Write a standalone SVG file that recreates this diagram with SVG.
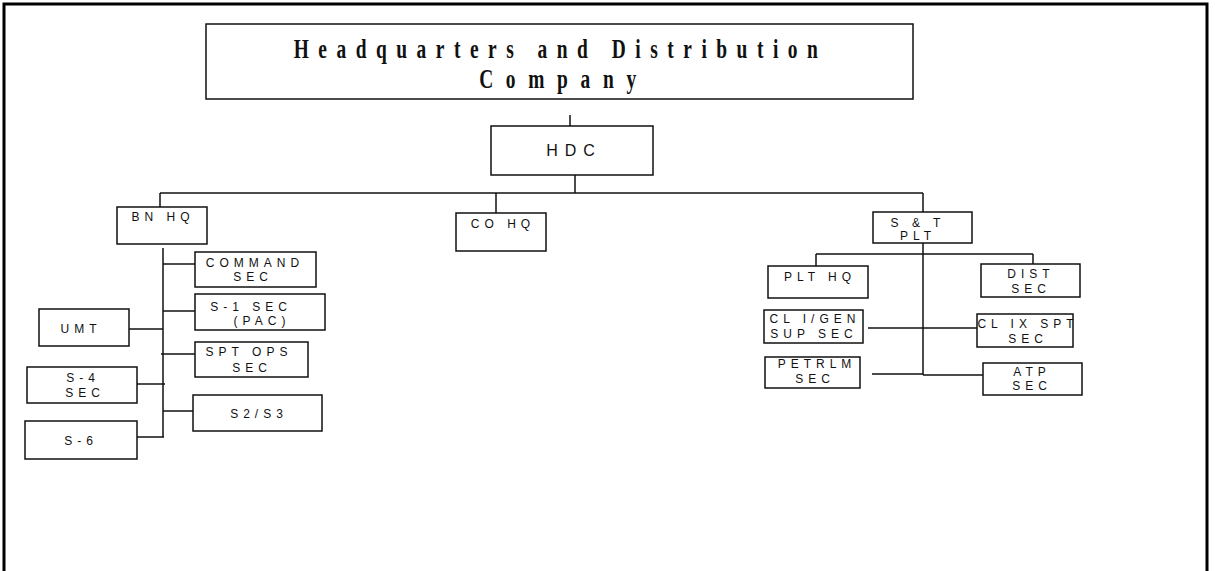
<svg xmlns="http://www.w3.org/2000/svg" width="1215" height="571" viewBox="0 0 1215 571">
  <style>
    .box { fill: #fff; stroke: #111; stroke-width: 1.5; }
    .ln { stroke: #111; stroke-width: 1.5; fill: none; }
    .t { font-family: "Liberation Sans", Arial, sans-serif; font-size: 12px; letter-spacing: 5px; fill: #111; text-anchor: middle; }
    .big { font-family: "Liberation Sans", Arial, sans-serif; font-size: 16px; letter-spacing: 7px; fill: #111; text-anchor: middle; }
    .title { font-family: "Liberation Serif", "Times New Roman", serif; font-size: 27px; font-weight: bold; fill: #111; text-anchor: middle; }
  </style>
  <rect x="0" y="0" width="1215" height="571" fill="#fff"/>
  <rect x="4" y="4" width="1203" height="590" fill="none" stroke="#000" stroke-width="3"/>

  <g id="connectors">
    <line class="ln" x1="570" y1="115" x2="570" y2="126" stroke-width="3"/>
    <line class="ln" x1="575" y1="175" x2="575" y2="193"/>
    <line class="ln" x1="160" y1="193" x2="923" y2="193"/>
    <line class="ln" x1="160" y1="193" x2="160" y2="207"/>
    <line class="ln" x1="496" y1="193" x2="496" y2="213" stroke-width="2.5"/>
    <line class="ln" x1="923" y1="193" x2="923" y2="212"/>
    <line class="ln" x1="163" y1="248" x2="163" y2="437"/>
    <line class="ln" x1="163" y1="264" x2="195" y2="264"/>
    <line class="ln" x1="163" y1="311" x2="195" y2="311"/>
    <line class="ln" x1="129" y1="329" x2="163" y2="329"/>
    <line class="ln" x1="161" y1="354" x2="195" y2="354"/>
    <line class="ln" x1="137" y1="384" x2="165" y2="384"/>
    <line class="ln" x1="163" y1="411" x2="193" y2="411"/>
    <line class="ln" x1="134" y1="437" x2="164" y2="437"/>
    <line class="ln" x1="923" y1="243" x2="923" y2="375"/>
    <line class="ln" x1="816" y1="254" x2="1033" y2="254"/>
    <line class="ln" x1="816" y1="254" x2="816" y2="266"/>
    <line class="ln" x1="1033" y1="254" x2="1033" y2="264"/>
    <line class="ln" x1="868" y1="328" x2="977" y2="328"/>
    <line class="ln" x1="872" y1="374" x2="923" y2="374"/>
    <line class="ln" x1="923" y1="375" x2="983" y2="375"/>
  </g>

  <g id="title">
    <rect class="box" x="206" y="24" width="707" height="75" stroke-width="2"/>
    <g transform="translate(560.5,0) scale(0.72,1)">
      <text class="title" x="0" y="58" letter-spacing="13.2">Headquarters and Distribution</text>
    </g>
    <g transform="translate(564,0) scale(0.72,1)">
      <text class="title" x="0" y="88" letter-spacing="17.6">Company</text>
    </g>
  </g>

  <g id="hdc">
    <rect class="box" x="491" y="126" width="162" height="49"/>
    <text class="big" x="574" y="156">HDC</text>
  </g>

  <g id="bnhq">
    <rect class="box" x="117" y="207" width="90" height="37"/>
    <text class="t" x="163" y="221">BN HQ</text>
  </g>

  <g id="cohq">
    <rect class="box" x="456" y="213" width="90" height="38"/>
    <text class="t" x="503" y="228">CO HQ</text>
  </g>

  <g id="stplt">
    <rect class="box" x="873" y="212" width="99" height="31"/>
    <text class="t" x="918" y="227">S &amp; T</text>
    <text class="t" x="918" y="240">PLT</text>
  </g>

  <g id="commandsec">
    <rect class="box" x="195" y="252" width="121" height="35"/>
    <text class="t" x="255" y="267">COMMAND</text>
    <text class="t" x="253" y="281">SEC</text>
  </g>

  <g id="s1sec">
    <rect class="box" x="195" y="294" width="130" height="36"/>
    <text class="t" x="251" y="311">S-1 SEC</text>
    <text class="t" x="262" y="325">(PAC)</text>
  </g>

  <g id="umt">
    <rect class="box" x="39" y="309" width="90" height="37"/>
    <text class="t" x="81" y="333">UMT</text>
  </g>

  <g id="sptops">
    <rect class="box" x="195" y="342" width="113" height="35"/>
    <text class="t" x="249" y="356">SPT OPS</text>
    <text class="t" x="252" y="372">SEC</text>
  </g>

  <g id="s4sec">
    <rect class="box" x="27" y="367" width="110" height="36"/>
    <text class="t" x="83" y="382">S-4</text>
    <text class="t" x="85" y="397">SEC</text>
  </g>

  <g id="s2s3">
    <rect class="box" x="193" y="395" width="129" height="36"/>
    <text class="t" x="259" y="418">S2/S3</text>
  </g>

  <g id="s6">
    <rect class="box" x="25" y="421" width="112" height="38"/>
    <text class="t" x="81" y="445">S-6</text>
  </g>

  <g id="plthq">
    <rect class="box" x="768" y="266" width="100" height="32"/>
    <text class="t" x="820" y="281">PLT HQ</text>
  </g>

  <g id="distsec">
    <rect class="box" x="981" y="264" width="99" height="33"/>
    <text class="t" x="1031" y="278">DIST</text>
    <text class="t" x="1031" y="293">SEC</text>
  </g>

  <g id="cligen">
    <rect class="box" x="764" y="310" width="99" height="33"/>
    <text class="t" x="815" y="323">CL I/GEN</text>
    <text class="t" x="814" y="338">SUP SEC</text>
  </g>

  <g id="clix">
    <rect class="box" x="977" y="314" width="96" height="33"/>
    <text class="t" x="1028" y="328">CL IX SPT</text>
    <text class="t" x="1028" y="343">SEC</text>
  </g>

  <g id="petrlm">
    <rect class="box" x="765" y="357" width="95" height="31"/>
    <text class="t" x="817" y="368">PETRLM</text>
    <text class="t" x="815" y="383">SEC</text>
  </g>

  <g id="atpsec">
    <rect class="box" x="983" y="363" width="99" height="32"/>
    <text class="t" x="1032" y="376">ATP</text>
    <text class="t" x="1032" y="390">SEC</text>
  </g>
</svg>
